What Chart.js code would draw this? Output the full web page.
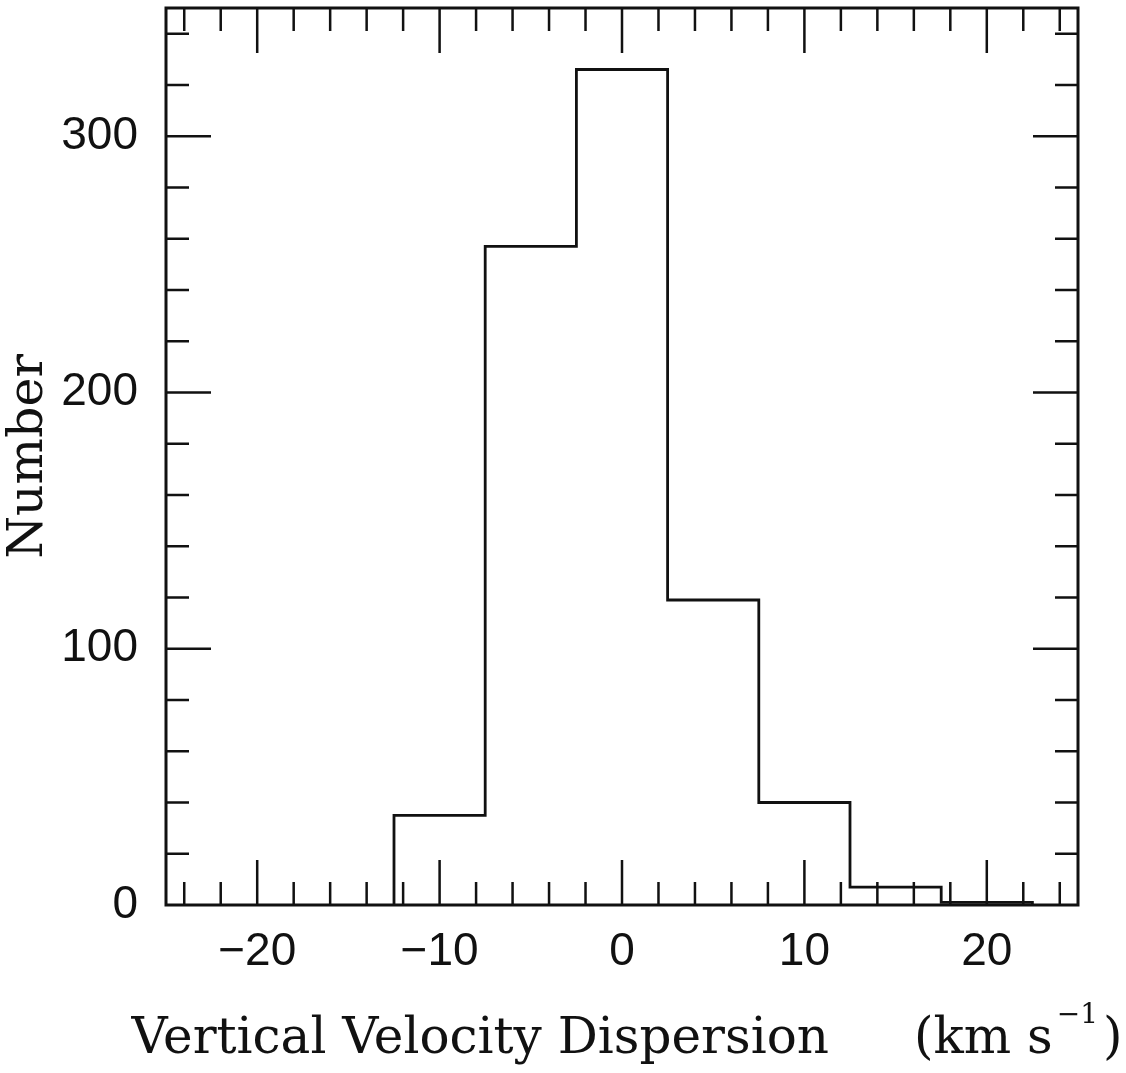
<!DOCTYPE html>
<html>
<head>
<meta charset="utf-8">
<script src="https://cdn.jsdelivr.net/npm/chart.js@4/dist/chart.umd.min.js"></script>
<style>
  html, body { margin: 0; padding: 0; background: #fff; }
  #wrap { width: 1126px; height: 1073px; }
</style>
</head>
<body>
<div id="wrap"><canvas id="hist"></canvas></div>
<script>
// velocity bins (km/s), 5 km/s wide
var binCentres = [-10, -5, 0, 5, 10, 15, 20];
var binCounts = [35, 257, 326, 119, 40, 7, 1];
var binWidth = 5;

var xTickLabels = [-20, -10, 0, 10, 20];
var yTickLabels = [0, 100, 200, 300];

// outline of the histogram: corners of every bin, closed at the baseline
var outline = [];
outline.push({ x: binCentres[0] - binWidth / 2, y: 0 });
for (var i = 0; i < binCentres.length; i++) {
  outline.push({ x: binCentres[i] - binWidth / 2, y: binCounts[i] });
  outline.push({ x: binCentres[i] + binWidth / 2, y: binCounts[i] });
}
outline.push({ x: binCentres[binCentres.length - 1] + binWidth / 2, y: 0 });

var INK = '#111';
var SERIF = '"DejaVu Serif", serif';

// box around the plot with inward tick marks on all four sides
var frameTicks = {
  id: 'frameTicks',
  afterDatasetsDraw: function (chart) {
    var ctx = chart.ctx, a = chart.chartArea;
    var xs = chart.scales.x, ys = chart.scales.y;
    ctx.save();
    ctx.strokeStyle = INK;
    ctx.lineCap = 'butt';
    ctx.lineWidth = 2.5;
    var v, p, len;
    for (v = -24; v <= 24; v += 2) {
      p = xs.getPixelForValue(v);
      len = (v % 10 === 0) ? 45 : 23;
      ctx.beginPath();
      ctx.moveTo(p, a.bottom); ctx.lineTo(p, a.bottom - len);
      ctx.moveTo(p, a.top); ctx.lineTo(p, a.top + len);
      ctx.stroke();
    }
    for (v = 20; v < ys.max; v += 20) {
      p = ys.getPixelForValue(v);
      len = (v % 100 === 0) ? 45 : 23;
      ctx.beginPath();
      ctx.moveTo(a.left, p); ctx.lineTo(a.left + len, p);
      ctx.moveTo(a.right, p); ctx.lineTo(a.right - len, p);
      ctx.stroke();
    }
    ctx.lineWidth = 3;
    ctx.strokeRect(a.left, a.top, a.right - a.left, a.bottom - a.top);
    ctx.restore();
  }
};

// x axis title with the unit written as km s^-1 (raised exponent)
var xTitle = {
  id: 'xTitle',
  afterDraw: function (chart) {
    var ctx = chart.ctx, a = chart.chartArea;
    var big = '50px ' + SERIF, small = '28px ' + SERIF;
    var parts = [
      { t: 'Vertical Velocity Dispersion', f: big, dy: 0, gap: 85 },
      { t: '(km s', f: big, dy: 0, gap: 4 },
      { t: '\u22121', f: small, dy: -30, gap: 5 },
      { t: ')', f: big, dy: 0, gap: 0 }
    ];
    ctx.save();
    ctx.fillStyle = INK;
    ctx.textBaseline = 'alphabetic';
    ctx.textAlign = 'left';
    var total = 0;
    parts.forEach(function (p) { ctx.font = p.f; p.w = ctx.measureText(p.t).width; total += p.w + p.gap; });
    var x = (a.left + a.right) / 2 + 5 - total / 2;
    var base = a.bottom + 148;
    parts.forEach(function (p) {
      ctx.font = p.f;
      ctx.fillText(p.t, x, base + p.dy);
      x += p.w + p.gap;
    });
    ctx.restore();
  }
};

new Chart(document.getElementById('hist'), {
  type: 'line',
  data: {
    datasets: [{
      data: outline,
      borderColor: INK,
      borderWidth: 2.8,
      pointRadius: 0,
      fill: false,
      tension: 0
    }]
  },
  options: {
    responsive: true,
    maintainAspectRatio: false,
    animation: false,
    layout: { padding: { top: 8, right: 48, left: 0, bottom: 0 } },
    plugins: { legend: { display: false }, tooltip: { enabled: false } },
    scales: {
      x: {
        type: 'linear',
        min: -25, max: 25,
        grid: { display: false, drawTicks: false },
        border: { display: false },
        afterBuildTicks: function (s) { s.ticks = xTickLabels.map(function (v) { return { value: v }; }); },
        afterFit: function (s) { s.height = 168; s.paddingLeft = 0; s.paddingRight = 0; },
        ticks: {
          color: INK,
          padding: 20,
          font: { family: 'Liberation Sans', size: 46 },
          maxRotation: 0,
          callback: function (v) { return String(v).replace('-', '\u2212'); }
        },
        title: { display: false }
      },
      y: {
        min: 0, max: 350,
        grid: { display: false, drawTicks: false },
        border: { display: false },
        afterBuildTicks: function (s) { s.ticks = yTickLabels.map(function (v) { return { value: v }; }); },
        afterFit: function (s) { s.width = 166; s.paddingTop = 0; s.paddingBottom = 0; },
        ticks: {
          color: INK,
          padding: 28,
          font: { family: 'Liberation Sans', size: 46 }
        },
        title: {
          display: true,
          text: 'Number',
          color: INK,
          font: { family: 'DejaVu Serif', size: 49 },
          padding: 0
        }
      }
    }
  },
  plugins: [frameTicks, xTitle]
});
</script>
</body>
</html>
